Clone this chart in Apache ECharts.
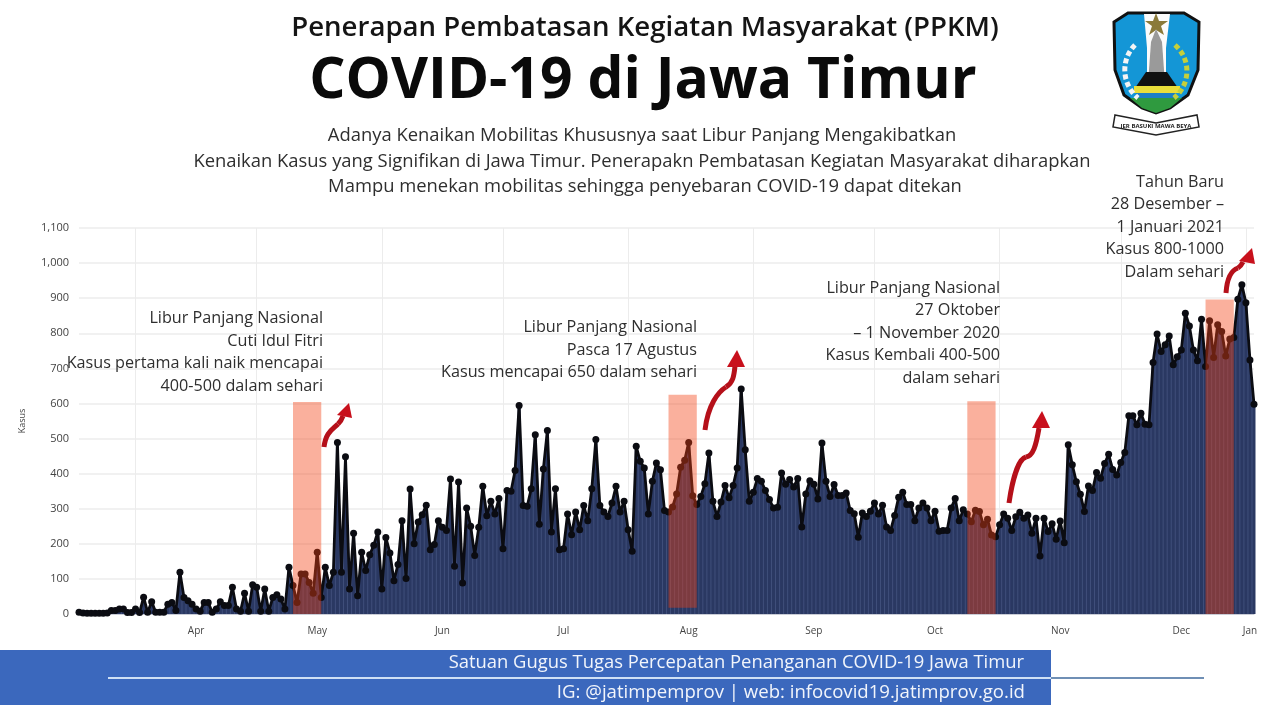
<!DOCTYPE html>
<html><head><meta charset="utf-8">
<style>html,body{margin:0;padding:0;background:#fff}#c{width:1280px;height:721px}</style>
<script src="https://cdn.jsdelivr.net/npm/echarts@6/dist/echarts.min.js"></script>
</head><body><div id="c"></div>
<script>
const dailyCases = [
5,3,2,2,2,2,2,3,10,10,14,14,4,4,14,4,48,5,35,5,5,5,28,33,10,119,47,38,28,14,8,33,33,5,14,35,24,24,76,14,8,59,8,83,76,8,71,8,47,55,43,14,133,81,33,114,114,90,59,176,47,133,81,119,489,119,448,71,230,52,
176,124,169,196,234,71,218,174,95,141,266,101,356,200,262,283,310,183,198,266,247,238,385,136,376,88,302,250,167,247,364,280,321,285,329,186,352,350,409,594,309,307,357,511,256,413,523,234,357,183,186,285,226,291,240,309,266,357,497,309,291,278,316,364,291,321,240,179,478,435,416,285,378,430,
411,295,291,305,342,418,438,489,337,312,335,371,459,321,278,319,366,331,366,416,641,468,321,347,386,378,352,326,302,304,402,370,383,362,386,248,342,380,370,328,487,378,335,369,338,338,345,295,286,219,288,278,293,316,285,310,248,238,281,333,347,312,312,266,302,316,302,266,293,236,238,238,302,329,266,297,
285,263,296,292,254,270,225,220,254,285,273,238,277,290,273,282,230,273,165,273,235,257,213,265,203,482,425,377,341,292,365,352,403,387,429,455,412,396,432,460,565,565,539,572,541,539,717,798,748,767,792,710,733,752,857,821,752,722,840,705,836,731,824,805,735,784,788,897,938,887,724,598];
const valueTicks = [0,100,200,300,400,500,600,700,800,900,1000,1100];
const monthStarts = ['2020-04-01','2020-05-01','2020-06-01','2020-07-01','2020-08-01','2020-09-01','2020-10-01','2020-11-01','2020-12-01','2021-01-01'];
const monthLabelDays = {'2020-04-16':'Apr','2020-05-16':'May','2020-06-16':'Jun','2020-07-16':'Jul','2020-08-16':'Aug','2020-09-16':'Sep','2020-10-16':'Oct','2020-11-16':'Nov','2020-12-16':'Dec','2021-01-02':'Jan'};
const holidayBands = [
 {from:'2020-05-10',to:'2020-05-17',low:0,high:604},
 {from:'2020-08-11',to:'2020-08-18',low:18,high:625},
 {from:'2020-10-24',to:'2020-10-31',low:0,high:606},
 {from:'2020-12-22',to:'2020-12-29',low:0,high:896}
];
const categories = dailyCases.map(function(_,i){
  const d = new Date(Date.UTC(2020,2,18+i));
  return d.toISOString().slice(0,10);
});
const FONT = '"Open Sans","Noto Sans",sans-serif';
const textColor = '#2e2e2e';
function txt(x,y,text,size,weight,align,fill){
  return {type:'text',z:50,style:{x:x,y:y,text:text,font:(weight||400)+' '+size+'px '+FONT,fill:fill||textColor,textAlign:align||'center',textVerticalAlign:'middle'}};
}
function multi(x,ys,lines,size,align){return lines.map(function(l,i){return txt(x,ys[i],l,size,400,align);});}
function curve(a,c1,c2,b,color,w,dash,z){
  return {type:'bezierCurve',z:z||40,shape:{x1:a[0],y1:a[1],cpx1:c1[0],cpy1:c1[1],cpx2:c2[0],cpy2:c2[1],x2:b[0],y2:b[1]},style:{fill:'none',stroke:color,lineWidth:w,lineDash:dash||null}};
}
function arrow(curves,head){
  const out = curves.map(function(c){return curve(c[0],c[1],c[2],c[3],'#b5101a',5);});
  out.push({type:'polygon',z:41,shape:{points:head},style:{fill:'#c8101c'}});
  return out;
}
const banner = [
 {type:'rect',z:30,shape:{x:0,y:650,width:1051,height:55},style:{fill:'#3b68bd'}},
 {type:'rect',z:31,shape:{x:1051,y:677,width:153,height:2},style:{fill:'#6f8fb5'}},
 {type:'rect',z:31,shape:{x:108,y:677,width:943,height:2},style:{fill:'#cfe0f5'}},
 txt(1024,663,'Satuan Gugus Tugas Percepatan Penanganan COVID-19 Jawa Timur',18.4,400,'right','#f2f5fb'),
 txt(1025,693,'IG: @jatimpemprov | web: infocovid19.jatimprov.go.id',18.6,400,'right','#f2f5fb')
];
const logo = [
 {type:'polygon',z:20,shape:{points:[[1114,22],[1128,13],[1184,13],[1199,22],[1198,70],[1188,95],[1170,108],[1156,113],[1142,108],[1124,95],[1115,70]]},style:{fill:'#1496d6',stroke:'#111',lineWidth:3}},
 {type:'polygon',z:21,shape:{points:[[1144,14],[1170,14],[1166,48],[1166,80],[1147,80],[1147,48]]},style:{fill:'#fbfbfb'}},
 {type:'polygon',z:22,shape:{points:[[1156,13],[1159,21],[1168,21],[1161,26],[1164,35],[1156,30],[1149,35],[1152,26],[1145,21],[1153,21]]},style:{fill:'#8a7a3a'}},
 {type:'polygon',z:22,shape:{points:[[1156,29],[1162,42],[1165,84],[1148,84],[1151,42]]},style:{fill:'#9a9a9a'}},
 {type:'polygon',z:22,shape:{points:[[1135,88],[1146,72],[1167,72],[1178,88]]},style:{fill:'#111'}},
 {type:'rect',z:22,shape:{x:1134,y:86,width:46,height:7},style:{fill:'#e9de3a'}},
 {type:'rect',z:22,shape:{x:1136,y:93,width:40,height:6},style:{fill:'#1c7fc4'}},
 {type:'polygon',z:22,shape:{points:[[1130,98],[1182,98],[1170,108],[1156,113],[1142,108]]},style:{fill:'#2f9a3f'}},
 curve([1135,45],[1120,60],[1122,85],[1138,98],'#f4f4f4',5,[5,3],22),
 curve([1175,45],[1192,60],[1190,85],[1174,98],'#c5cf3a',5,[5,3],22),
 {type:'polygon',z:23,shape:{points:[[1115,115],[1156,123],[1197,115],[1199,127],[1156,135],[1113,127]]},style:{fill:'#fff',stroke:'#222',lineWidth:1.5}},
 {type:'text',z:24,style:{x:1156,y:126,text:'JER BASUKI MAWA BEYA',font:'700 6px '+FONT,fill:'#222',textAlign:'center',textVerticalAlign:'middle'}}
];
const graphics = [].concat(
 banner, logo,
 [txt(645,28,'Penerapan Pembatasan Kegiatan Masyarakat (PPKM)',27.6,600,'center','#151515'),
  txt(643,82,'COVID-19 di Jawa Timur',57,700,'center','#0a0a0a'),
  txt(642,136,'Adanya Kenaikan Mobilitas Khususnya saat Libur Panjang Mengakibatkan',18.4),
  txt(642,162,'Kenaikan Kasus yang Signifikan di Jawa Timur. Penerapakn Pembatasan Kegiatan Masyarakat diharapkan',18.4),
  txt(645,187,'Mampu menekan mobilitas sehingga penyebaran COVID-19 dapat ditekan',18.4)],
 multi(323,[318,341,363,386],['Libur Panjang Nasional','Cuti Idul Fitri','Kasus pertama kali naik mencapai','400-500 dalam sehari'],16.2,'right'),
 multi(697,[327,350,372],['Libur Panjang Nasional','Pasca 17 Agustus','Kasus mencapai 650 dalam sehari'],16.2,'right'),
 multi(1000,[288,310,333,355,378],['Libur Panjang Nasional','27 Oktober','\u2013 1 November 2020','Kasus Kembali 400-500','dalam sehari'],16.2,'right'),
 multi(1224,[182,204,227,249,272],['Tahun Baru','28 Desember \u2013','1 Januari 2021','Kasus 800-1000','Dalam sehari'],16.2,'right'),
 arrow([[[324,447],[326,432],[332,430],[338,424]],[[338,424],[341,421],[342,419],[343,416]]],[[349,403],[352,418],[337,415]]),
 arrow([[[705,430],[708,405],[718,392],[726,387]],[[726,387],[733,383],[734,376],[735,366]]],[[737,350],[745,367],[727,367]]),
 arrow([[[1009,503],[1012,482],[1018,459],[1026,457]],[[1026,457],[1033,456],[1036,446],[1039,428]]],[[1042,411],[1050,428],[1032,428]]),
 arrow([[[1226,293],[1227,278],[1232,270],[1238,268]],[[1238,268],[1241,266],[1242,264],[1243,262]]],[[1252,248],[1255,264],[1239,261]])
);
const chart = echarts.init(document.getElementById('c'));
chart.setOption({
 animation:false,
 backgroundColor:'#ffffff',
 textStyle:{fontFamily:FONT},
 grid:{left:79,right:26,top:228,bottom:107},
 xAxis:{type:'category',data:categories,boundaryGap:false,
  axisLine:{show:true,lineStyle:{color:'#c9ccd6',width:1}},axisTick:{show:false},
  axisLabel:{color:'#444',fontSize:10,margin:12,
    interval:function(i,v){return monthLabelDays[v]!==undefined;},
    formatter:function(v){return monthLabelDays[v]||'';}},
  splitLine:{show:true,lineStyle:{color:'#ececec',width:1},
    interval:function(i,v){return monthStarts.indexOf(v)>=0;}}
 },
 yAxis:{type:'value',name:'Kasus',nameLocation:'middle',nameGap:52,nameTextStyle:{color:'#444',fontSize:9},
  min:valueTicks[0],max:valueTicks[valueTicks.length-1],interval:100,
  axisLine:{show:false},axisTick:{show:false},
  axisLabel:{color:'#444',fontSize:11,margin:10,formatter:function(v){return v.toLocaleString('en-US');}},
  splitLine:{lineStyle:{color:'#ececec',width:1.5}}},
 series:[
  {type:'line',name:'Area',data:dailyCases,z:1,symbol:'none',lineStyle:{width:0},areaStyle:{color:'#3f4e7a',opacity:1},silent:true},
  {type:'bar',name:'Harian',data:dailyCases,z:2,barWidth:3,itemStyle:{color:'#2a3862'},silent:true},
  {type:'line',name:'Kasus',data:dailyCases,z:3,symbol:'circle',symbolSize:7,showSymbol:true,showAllSymbol:true,
   lineStyle:{color:'#0b0c12',width:2.8},itemStyle:{color:'#0b0c12'},silent:true},
  {type:'line',name:'Libur',data:[],z:6,silent:true,
   markArea:{silent:true,z:10,itemStyle:{color:'rgba(243,62,16,0.41)'},
    data:holidayBands.map(function(b){return [{xAxis:b.from,yAxis:b.low},{xAxis:b.to,yAxis:b.high}];})}}
 ],
 graphic:graphics
});
</script></body></html>
